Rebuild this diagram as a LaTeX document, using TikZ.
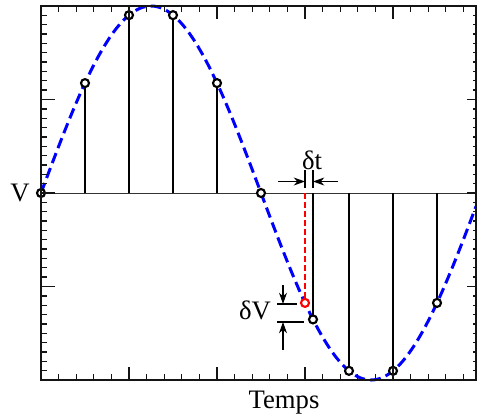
\documentclass[tikz,border=0pt]{standalone}
\usepackage{fontspec}
\setmainfont{Liberation Serif}
\usepackage{tikz}
\usetikzlibrary{arrows.meta, positioning}
\definecolor{wave}{RGB}{0, 0, 255}
\definecolor{offred}{RGB}{255, 0, 0}
\definecolor{axis}{RGB}{20, 20, 20}
\tikzset{
    frame/.style={line width=1.5pt, draw=axis},
    tick/.style={line width=1pt, draw=axis},
    stem/.style={line width=1.6pt, black},
    zero/.style={line width=0.75pt, black!80},
    sample/.style={circle, draw=black, fill=white, line width=1.6pt, inner sep=0pt, minimum size=6pt},
    lbl/.style={font=\fontsize{20}{24}\selectfont, inner sep=0pt},
    guide/.style={line width=0.8pt, black},
    dim/.style={-{Stealth[length=8.5pt, width=6pt]}, line width=0.8pt, black}
}

\begin{document}
\begin{tikzpicture}[x=0.75pt, y=-0.75pt]
    \useasboundingbox (0,0) rectangle (477,418);
    \draw[zero] (41,193) -- (476,193);
    \foreach \xs in {41,85,129,173,217,261,313,349,393,437} {
        \pgfmathsetmacro{\ys}{193-187*sin((\xs-41)/440*360)}
        \draw[stem] (\xs,193) -- (\xs,\ys);
    }
    \draw[color=wave, line width=2.25pt, dash pattern=on 8pt off 4pt]
        plot[domain=41:476, samples=200] (\x, {193-187*sin((\x-41)/440*360)});
    \foreach \xs [count=\i] in {41,85,129,173,217,261,313,349,393,437} {
        \pgfmathsetmacro{\ys}{193-187*sin((\xs-41)/440*360)}
        \node[sample] (s\i) at (\xs,\ys) {};
    }
    \coordinate (r0) at (305,193);
    \node[sample, draw=offred] (r) at (305,302.9) {};
    \draw[color=offred, line width=1.5pt, dash pattern=on 4.5pt off 2.25pt] (r0) -- (r.north);

    \draw[frame] (41,6) rectangle (476,380);
    \foreach \k in {0,...,40} {
        \pgfmathsetmacro{\yt}{6+9.35*\k}
        \draw[tick] (41,\yt) -- ++(6,0);
        \draw[tick] (476,\yt) -- ++(-3,0);
    }
    \foreach \k in {0,...,4} {
        \pgfmathsetmacro{\yt}{6+93.5*\k}
        \draw[tick] (41,\yt) -- ++(14,0);
        \draw[tick] (476,\yt) -- ++(-9,0);
    }
    \foreach \k in {0,...,24} {
        \pgfmathsetmacro{\xt}{41+17.6*\k}
        \draw[tick] (\xt,380) -- ++(0,-6);
        \draw[tick] (\xt,6) -- ++(0,6);
    }
    \foreach \k in {0,...,4} {
        \pgfmathsetmacro{\xt}{41+88*\k}
        \draw[tick] (\xt,380) -- ++(0,-13);
        \draw[tick] (\xt,6) -- ++(0,13);
    }

    \coordinate (tla) at (305,170);
    \coordinate (tlb) at (305,188);
    \coordinate (tra) at (313,170);
    \coordinate (trb) at (313,188);
    \coordinate (ta) at (278,181.5);
    \coordinate (tb) at (305,181.5);
    \coordinate (tc) at (338,181.5);
    \coordinate (td) at (313,181.5);
    \draw[guide] (tla) -- (tlb);
    \draw[guide] (tra) -- (trb);
    \draw[dim] (ta) -- (tb);
    \draw[dim] (tc) -- (td);
    \node[lbl] (dt) at (312,160) {δt};

    \coordinate (va) at (277,304);
    \coordinate (vb) at (297,304);
    \coordinate (vc) at (277,322);
    \coordinate (vd) at (304,322);
    \coordinate (ve) at (283,285);
    \coordinate (vf) at (283,304);
    \coordinate (vg) at (283,350);
    \coordinate (vh) at (283,322);
    \draw[guide] (va) -- (vb);
    \draw[guide] (vc) -- (vd);
    \draw[dim] (ve) -- (vf);
    \draw[dim] (vg) -- (vh);
    \node[lbl] (dv) at (255,310) {δV};

    \node[lbl] (vlabel) at (20,193) {V};
    \node[lbl] (temps) at (284,403) {Temps};
\end{tikzpicture}
\end{document}
